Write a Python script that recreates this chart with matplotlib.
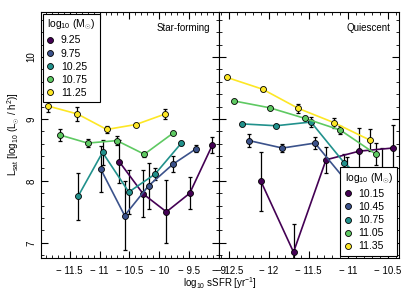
import matplotlib
matplotlib.use("Agg")
from matplotlib import pyplot as plt
from matplotlib.ticker import MultipleLocator, FuncFormatter

plt.rcParams["font.family"] = ["Liberation Sans", "DejaVu Sans"]
plt.rcParams["mathtext.fontset"] = "custom"
plt.rcParams["mathtext.rm"] = "Liberation Sans"
plt.rcParams["mathtext.it"] = "Liberation Sans:italic"
plt.rcParams["font.size"] = 7

colors = ["#440154", "#3b528b", "#21918c", "#5ec962", "#fde725"]

# star-forming sample
sf_mass = ["9.25", "9.75", "10.25", "10.75", "11.25"]
sf_x = [
    [-10.67, -10.27, -9.88, -9.49, -9.11],
    [-10.98, -10.58, -10.18, -9.77, -9.38],
    [-11.36, -10.95, -10.51, -10.07, -9.63],
    [-11.66, -11.20, -10.71, -10.25, -9.77],
    [-11.87, -11.37, -10.88, -10.39, -9.90],
]
sf_y = [
    [8.31, 7.79, 7.50, 7.80, 8.58],
    [8.19, 7.44, 7.92, 8.27, 8.52],
    [7.75, 8.46, 7.82, 8.11, 8.61],
    [8.74, 8.61, 8.65, 8.43, 8.77],
    [9.21, 9.08, 8.83, 8.91, 9.08],
]
sf_err = [
    [0.35, 0.38, 0.51, 0.26, 0.13],
    [0.37, 0.55, 0.37, 0.13, 0.06],
    [0.38, 0.20, 0.35, 0.10, 0.03],
    [0.10, 0.07, 0.07, 0.04, 0.02],
    [0.10, 0.11, 0.05, 0.02, 0.08],
]

# quiescent sample
q_mass = ["10.15", "10.45", "10.75", "11.05", "11.35"]
q_x = [
    [-12.10, -11.69, -11.28, -10.86, -10.44],
    [-12.25, -11.83, -11.42, -11.02, -10.58],
    [-12.34, -11.91, -11.47, -11.05, -10.62],
    [-12.44, -11.99, -11.55, -11.10, -10.65],
    [-12.53, -12.08, -11.63, -11.18, -10.73],
]
q_y = [
    [7.99, 6.85, 8.34, 8.48, 8.53],
    [8.65, 8.53, 8.61, 7.99, 7.85],
    [8.92, 8.89, 8.95, 8.29, 7.80],
    [9.29, 9.18, 9.01, 8.82, 8.43],
    [9.67, 9.48, 9.17, 8.94, 8.66],
]
q_err = [
    [0.48, 0.45, 0.21, 0.38, 0.38],
    [0.10, 0.06, 0.10, 0.40, 0.68],
    [0.02, 0.02, 0.08, 0.15, 0.20],
    [0.02, 0.02, 0.03, 0.06, 0.18],
    [0.02, 0.03, 0.07, 0.08, 0.17],
]


def fmt(v, pos):
    if v < 0:
        return "\u2212 %g" % abs(v)
    return "%g" % v


def draw(ax, xs, ys, errs, labels):
    for i in range(len(xs)):
        ax.errorbar(xs[i], ys[i], yerr=errs[i], fmt="none", ecolor="k",
                    elinewidth=0.9, capsize=1.5, capthick=0.9, zorder=2)
        ax.plot(xs[i], ys[i], "-o", color=colors[i], lw=1.2, ms=4.3,
                mec="k", mew=0.6, zorder=3, label=labels[i])
    ax.set_ylim(6.76, 10.73)
    ax.xaxis.set_major_locator(MultipleLocator(0.5))
    ax.xaxis.set_minor_locator(MultipleLocator(0.1))
    ax.yaxis.set_major_locator(MultipleLocator(1))
    ax.yaxis.set_minor_locator(MultipleLocator(0.2))
    ax.xaxis.set_major_formatter(FuncFormatter(fmt))
    ax.tick_params(which="both", direction="in", top=True, right=True)
    ax.tick_params(which="major", length=5)
    ax.tick_params(which="minor", length=2.5)
    ax.tick_params(axis="x", pad=6)


fig = plt.figure(figsize=(4.11, 2.94), dpi=100)
ax1 = fig.add_axes([0.0998, 0.1235, 0.4330, 0.8365])
ax2 = fig.add_axes([0.5328, 0.1235, 0.4380, 0.8365])

draw(ax1, sf_x, sf_y, sf_err, sf_mass)
draw(ax2, q_x, q_y, q_err, q_mass)
ax1.set_xlim(-11.98, -9.0)
ax2.set_xlim(-12.63, -10.36)
ax2.tick_params(labelleft=False)
for lab in ax1.get_yticklabels():
    lab.set_rotation(90)
    lab.set_va("center")

ax1.text(0.95, 0.955, "Star-forming", transform=ax1.transAxes, ha="right", va="top")
ax2.text(0.95, 0.955, "Quiescent", transform=ax2.transAxes, ha="right", va="top")

for ax, loc in [(ax1, "upper left"), (ax2, "lower right")]:
    leg = ax.legend(loc=loc, title=r"log$_{10}$ (M$_{\odot}$)", fontsize=7.5,
                    title_fontsize=7.5, frameon=True, fancybox=False,
                    handlelength=0.6, handletextpad=0.7, labelspacing=0.3,
                    borderaxespad=0.2, borderpad=0.4, framealpha=1)
    for h in leg.legend_handles:
        h.set_linestyle("none")
    leg.get_frame().set_edgecolor("k")
    leg.get_frame().set_linewidth(0.8)
    leg._legend_box.align = "left"

ax1.set_ylabel(r"L$_{\rm sat}$ [log$_{10}$ (L$_{\odot}$ / h$^2$)]", labelpad=3)
fig.text(0.535, 0.037, r"log$_{10}$ sSFR [yr$^{-1}$]", ha="center", va="center")

fig.savefig("out.png", dpi=100)
